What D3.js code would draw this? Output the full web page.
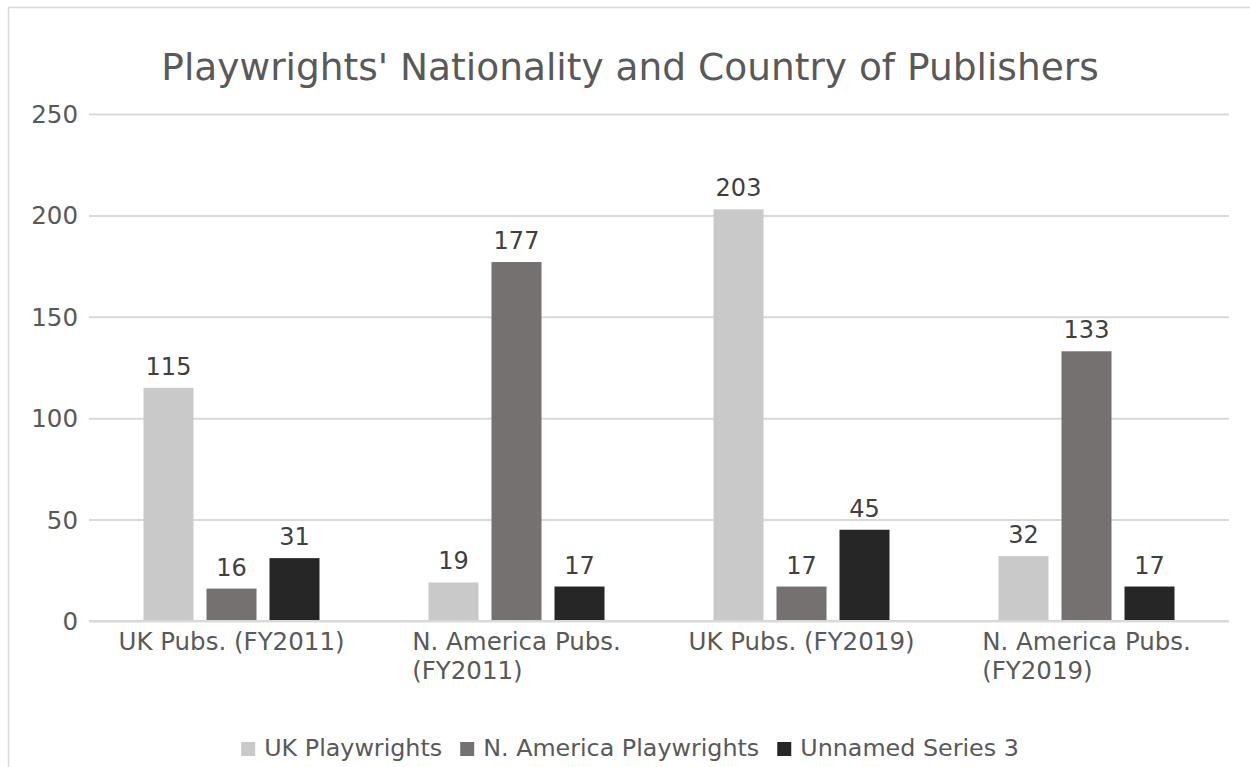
<!DOCTYPE html>
<html>
<head>
<meta charset="utf-8">
<script src="https://cdn.jsdelivr.net/npm/d3@7/dist/d3.min.js"></script>
<style>
  html, body { margin: 0; padding: 0; background: #fff; }
  svg { display: block; font-family: "DejaVu Sans", sans-serif; }
</style>
</head>
<body>
<svg id="chart" width="1250" height="767"></svg>
<script>
// Chart data
const categories = ["UK Pubs. (FY2011)", "N. America Pubs. (FY2011)", "UK Pubs. (FY2019)", "N. America Pubs. (FY2019)"];
const seriesNames = ["UK Playwrights", "N. America Playwrights", "Unnamed Series 3"];
const ukPlaywrights = [115, 19, 203, 32];
const naPlaywrights = [16, 177, 17, 133];
const unnamedSeries3 = [31, 17, 45, 17];
const yTicks = [0, 50, 100, 150, 200, 250];
const seriesColors = ["#c9c9c9", "#767171", "#262626"];
const titleText = "Playwrights' Nationality and Country of Publishers";

const seriesValues = [ukPlaywrights, naPlaywrights, unnamedSeries3];

const svg = d3.select("#chart");

// Chart frame
svg.append("rect")
  .attr("x", 8.5).attr("y", 7.5)
  .attr("width", 1244).attr("height", 780)
  .attr("fill", "#fff").attr("stroke", "#d9d9d9").attr("stroke-width", 1.5);

// Plot area
const plot = { left: 89, right: 1229, top: 114, bottom: 621 };

const y = d3.scaleLinear().domain([0, 250]).range([plot.bottom, plot.top]);
const x0 = d3.scaleBand().domain(categories).range([plot.left, plot.right]).padding(0);
const groupWidth = 176;
const x1 = d3.scaleBand().domain(seriesNames).range([0, groupWidth]).paddingInner(13 / 63).paddingOuter(0);
const groupOffset = (x0.bandwidth() - groupWidth) / 2;

// Title
svg.append("text")
  .attr("x", 630).attr("y", 80)
  .attr("text-anchor", "middle")
  .attr("font-size", 37.5)
  .attr("fill", "#595959")
  .text(titleText);

// Gridlines and y tick labels
const yAxis = d3.axisLeft(y).tickValues(yTicks).tickSize(-(plot.right - plot.left)).tickPadding(11);
const gy = svg.append("g").attr("transform", `translate(${plot.left},0)`).call(yAxis);
gy.select(".domain").remove();
gy.selectAll(".tick line").attr("stroke", "#d9d9d9").attr("stroke-width", 2);
gy.selectAll(".tick text")
  .attr("font-size", 24.5)
  .attr("font-family", "DejaVu Sans, sans-serif")
  .attr("fill", "#595959")
  .attr("dy", "0.35em");

// Bars
const groups = svg.append("g").selectAll("g")
  .data(categories)
  .join("g")
  .attr("transform", d => `translate(${x0(d) + groupOffset},0)`);

groups.selectAll("rect")
  .data((c, ci) => seriesNames.map((s, si) => ({ s, si, v: seriesValues[si][ci] })))
  .join("rect")
  .attr("x", d => x1(d.s))
  .attr("width", x1.bandwidth())
  .attr("y", d => y(d.v))
  .attr("height", d => y(0) - y(d.v))
  .attr("fill", d => seriesColors[d.si]);

// Data labels
groups.selectAll("text.value")
  .data((c, ci) => seriesNames.map((s, si) => ({ s, si, v: seriesValues[si][ci] })))
  .join("text")
  .attr("class", "value")
  .attr("x", d => x1(d.s) + x1.bandwidth() / 2)
  .attr("y", d => y(d.v) - 13)
  .attr("text-anchor", "middle")
  .attr("font-size", 24)
  .attr("fill", "#404040")
  .text(d => d.v);

// Category axis baseline
svg.append("line")
  .attr("x1", plot.left).attr("x2", plot.right)
  .attr("y1", y(0)).attr("y2", y(0))
  .attr("stroke", "#d9d9d9").attr("stroke-width", 2);

// Category labels, wrapped to the band width
const catG = svg.append("g");
categories.forEach(cat => {
  const maxW = x0.bandwidth() - 20;
  const t = catG.append("text")
    .attr("font-size", 24.5)
    .attr("fill", "#595959");
  const words = cat.split(" ");
  const lines = [];
  let line = [];
  const probe = t.append("tspan");
  words.forEach(w => {
    const trial = line.concat([w]).join(" ");
    probe.text(trial);
    if (probe.node().getComputedTextLength() > maxW && line.length) {
      lines.push(line.join(" "));
      line = [w];
    } else {
      line.push(w);
    }
  });
  lines.push(line.join(" "));
  probe.remove();
  const spans = lines.map((ln, i) => t.append("tspan").attr("y", 649.5 + i * 29).text(ln));
  const widths = spans.map(s => s.node().getComputedTextLength());
  const blockW = d3.max(widths);
  const cx = x0(cat) + x0.bandwidth() / 2;
  if (lines.length === 1) {
    spans[0].attr("x", cx).attr("text-anchor", "middle");
  } else {
    spans.forEach(s => s.attr("x", cx - blockW / 2));
  }
});

// Legend
const legend = svg.append("g");
const swatch = 14, swatchGap = 9, itemGap = 18;
const legendItems = seriesNames.map((name, i) => {
  const g = legend.append("g");
  g.append("rect").attr("width", swatch).attr("height", swatch).attr("y", 742).attr("fill", seriesColors[i]);
  const tx = g.append("text").attr("x", swatch + swatchGap).attr("y", 756).attr("font-size", 23.8).attr("fill", "#595959").text(name);
  return { g, w: swatch + swatchGap + tx.node().getComputedTextLength() };
});
const totalW = d3.sum(legendItems, d => d.w) + itemGap * (legendItems.length - 1);
let lx = 630 - totalW / 2;
legendItems.forEach(item => {
  item.g.attr("transform", `translate(${lx},0)`);
  lx += item.w + itemGap;
});
</script>
</body>
</html>
